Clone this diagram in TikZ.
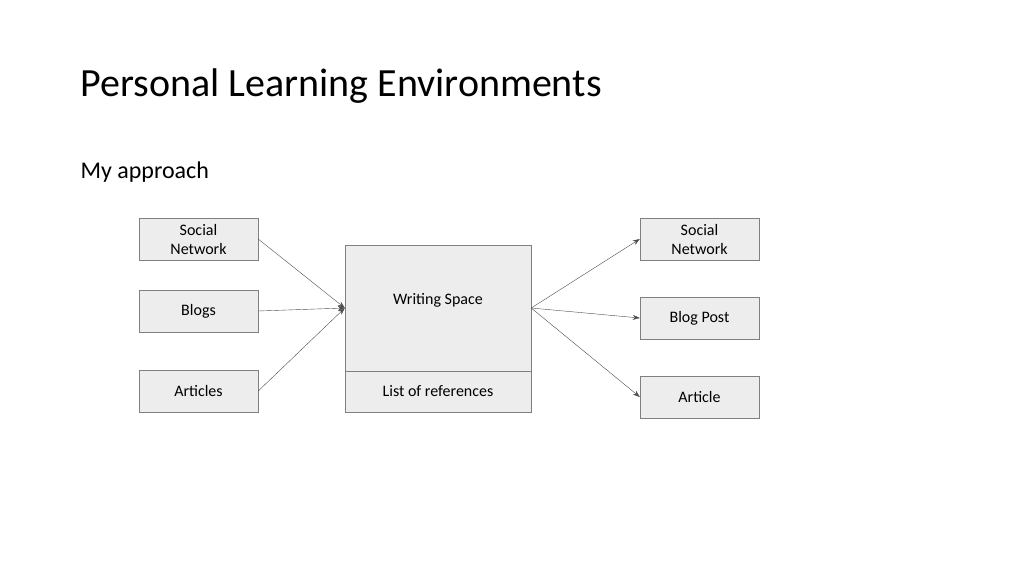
\documentclass[tikz,border=0pt]{standalone}
\usepackage{fontspec}
\setmainfont{Carlito}
\usetikzlibrary{arrows.meta}
\tikzset{
    grey-box/.style = {draw=black!50, fill=black!7, thin, rectangle, inner sep=0pt, align=center, font=\fontsize{16}{19}\selectfont},
    link/.style = {draw=black!70, thin, -{Stealth[length=7pt,width=5pt]}},
}
\begin{document}
\begin{tikzpicture}[x=1pt,y=-1pt]
\useasboundingbox (0,0) rectangle (1024,576);
\node[anchor=west, font=\fontsize{40}{48}\selectfont] (title) at (77,86) {Personal Learning Environments};
\node[anchor=west, font=\fontsize{24}{29}\selectfont] (sub) at (77,172) {My approach};
% sources
\node[grey-box, minimum width=119pt, minimum height=42pt] (in-social) at (198.5,239) {Social\\Network};
\node[grey-box, minimum width=119pt, minimum height=42pt] (in-blogs) at (198.5,311) {Blogs};
\node[grey-box, minimum width=119pt, minimum height=42pt] (in-articles) at (198.5,391) {Articles};
% writing space
\node[grey-box, minimum width=186pt, minimum height=126pt, text depth=0pt] (space) at (438,308) {\raisebox{0pt}{Writing Space}\\[0pt]};
\node[grey-box, minimum width=186pt, minimum height=41pt] (refs) at (438,391.5) {List of references};
% outputs
\node[grey-box, minimum width=119pt, minimum height=42pt] (out-social) at (699.5,239) {Social\\Network};
\node[grey-box, minimum width=119pt, minimum height=42pt] (out-post) at (699.5,318) {Blog Post};
\node[grey-box, minimum width=119pt, minimum height=42pt] (out-article) at (699.5,397) {Article};
\foreach \n in {in-social,in-blogs,in-articles}
    \draw[link] (\n.east) -- (space.west);
\foreach \n in {out-social,out-post,out-article}
    \draw[link] (space.east) -- (\n.west);
\end{tikzpicture}
\end{document}
